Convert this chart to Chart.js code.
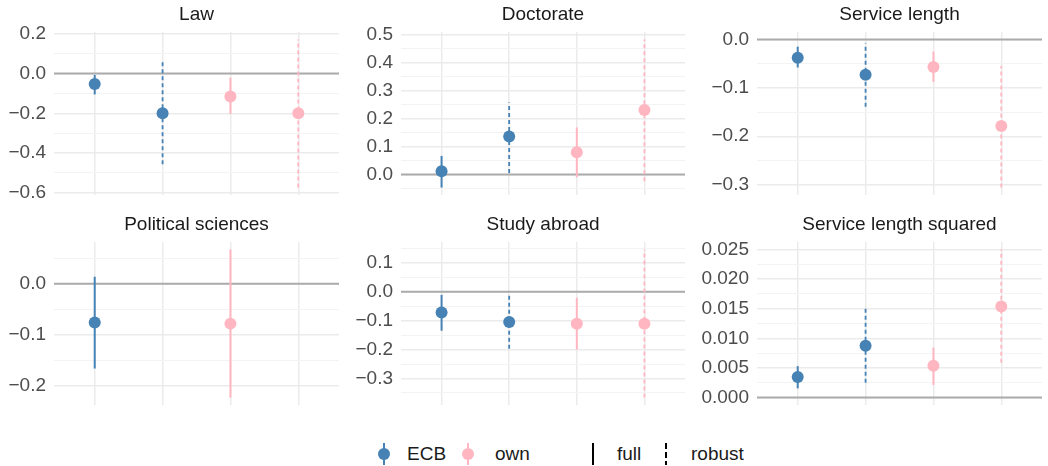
<!DOCTYPE html>
<html>
<head>
<meta charset="utf-8">
<script src="https://cdn.jsdelivr.net/npm/chart.js@4"></script>
<style>
  html, body { margin:0; padding:0; background:#fff; }
  body { width:1048px; height:466px; position:relative; overflow:hidden; font-family:"Liberation Sans", Arial, sans-serif; }
  canvas { position:absolute; }
  .lg { position:absolute; }
  .lgt { position:absolute; font-size:19px; line-height:22px; color:#1A1A1A; top:443px; }
</style>
</head>
<body>
<canvas id="c0"></canvas>
<canvas id="c1"></canvas>
<canvas id="c2"></canvas>
<canvas id="c3"></canvas>
<canvas id="c4"></canvas>
<canvas id="c5"></canvas>

<div class="lg" style="left:383px;top:443px;width:2px;height:22px;background:#4682B4"></div>
<div class="lg" style="left:378px;top:448px;width:12px;height:12px;border-radius:6px;background:#4682B4"></div>
<div class="lgt" style="left:407px">ECB</div>
<div class="lg" style="left:467px;top:443px;width:2px;height:22px;background:#FFB6C1"></div>
<div class="lg" style="left:462px;top:448px;width:12px;height:12px;border-radius:6px;background:#FFB6C1"></div>
<div class="lgt" style="left:495px">own</div>
<div class="lg" style="left:592px;top:443px;width:2px;height:22px;background:#000"></div>
<div class="lgt" style="left:617px">full</div>
<div class="lg" style="left:665px;top:443px;width:2px;height:22px;background:repeating-linear-gradient(to bottom,#000 0 6px,transparent 6px 9px)"></div>
<div class="lgt" style="left:691px">robust</div>

<script>
// ---- data ----
const panelTitles = ['Law', 'Doctorate', 'Service length', 'Political sciences', 'Study abroad', 'Service length squared'];
const xPositions = [1, 2, 3, 4];
const groups = ['ECB', 'ECB', 'own', 'own'];
const specs = ['full', 'robust', 'full', 'robust'];

const lawEst = [-0.052, -0.200, -0.115, -0.200];
const lawLo  = [-0.105, -0.457, -0.203, -0.574];
const lawHi  = [-0.007,  0.057, -0.020,  0.172];

const docEst = [0.011, 0.135, 0.079, 0.230];
const docLo  = [-0.047, 0.005, -0.010, -0.024];
const docHi  = [0.066, 0.257, 0.168, 0.482];

const servEst = [-0.038, -0.073, -0.057, -0.179];
const servLo  = [-0.058, -0.139, -0.088, -0.306];
const servHi  = [-0.015, -0.008, -0.025, -0.055];

const polEst = [-0.076, null, -0.078, null];
const polLo  = [-0.166, null, -0.223, null];
const polHi  = [ 0.014, null,  0.0675, null];

const studyEst = [-0.072, -0.105, -0.111, -0.111];
const studyLo  = [-0.135, -0.197, -0.200, -0.366];
const studyHi  = [-0.011, -0.011, -0.021,  0.146];

const sqEst = [0.00346, 0.00876, 0.00536, 0.01535];
const sqLo  = [0.00156, 0.00250, 0.00212, 0.00586];
const sqHi  = [0.00530, 0.01507, 0.00843, 0.02500];

const lawTicks   = [-0.6, -0.4, -0.2, 0.0, 0.2];
const docTicks   = [0.0, 0.1, 0.2, 0.3, 0.4, 0.5];
const servTicks  = [-0.3, -0.2, -0.1, 0.0];
const polTicks   = [-0.2, -0.1, 0.0];
const studyTicks = [-0.3, -0.2, -0.1, 0.0, 0.1];
const sqTicks    = [0.000, 0.005, 0.010, 0.015, 0.020, 0.025];
const tickDecimals = [1, 1, 1, 1, 1, 3];

const groupColors = { ECB: '#4682B4', own: '#FFB6C1' };

// ---- layout ----
const FONT = '"Liberation Sans", Arial, sans-serif';
const colGeom = [
  { left: 0,   axisW: 54, plotW: 291 },
  { left: 350, axisW: 51, plotW: 290 },
  { left: 697, axisW: 60, plotW: 291 }
];
const rowTop = [0, 210];
const canvasH = 195;

const panelData = [
  [lawEst, lawLo, lawHi, lawTicks],
  [docEst, docLo, docHi, docTicks],
  [servEst, servLo, servHi, servTicks],
  [polEst, polLo, polHi, polTicks],
  [studyEst, studyLo, studyHi, studyTicks],
  [sqEst, sqLo, sqHi, sqTicks]
];

function fmt(v, d) {
  let s = Math.abs(v) < 1e-12 ? (0).toFixed(d) : v.toFixed(d);
  return s.replace('-', '\u2212');
}

panelData.forEach((pd, p) => {
  const [est, lo, hi, majors] = pd;
  const dec = tickDecimals[p];
  const col = colGeom[p % 3];
  const top = rowTop[Math.floor(p / 3)];
  const cv = document.getElementById('c' + p);
  const W = col.axisW + col.plotW;
  cv.width = W; cv.height = canvasH;
  cv.style.left = col.left + 'px'; cv.style.top = top + 'px';
  cv.style.width = W + 'px'; cv.style.height = canvasH + 'px';

  const vals = [0];
  lo.forEach(v => { if (v !== null) vals.push(v); });
  hi.forEach(v => { if (v !== null) vals.push(v); });
  const dmin = Math.min(...vals), dmax = Math.max(...vals);
  const r = dmax - dmin;
  const ymin = dmin - 0.05 * r, ymax = dmax + 0.05 * r;

  const step = majors[1] - majors[0];
  const gridVals = [];
  majors.forEach(m => gridVals.push(m));
  for (let m = majors[0] - step / 2; m <= majors[majors.length - 1] + step / 2 + 1e-12; m += step) {
    if (m >= ymin && m <= ymax) gridVals.push(m);
  }
  gridVals.sort((a, b) => a - b);
  const isMajor = v => majors.some(m => Math.abs(m - v) < step * 1e-6);

  const datasets = [];
  datasets.push({
    type: 'line', data: [{ x: 0.4, y: 0 }, { x: 4.6, y: 0 }],
    borderColor: '#ABABAB', borderWidth: 2, pointRadius: 0, order: 5
  });
  xPositions.forEach((x, i) => {
    if (est[i] === null) return;
    const robust = specs[i] === 'robust';
    datasets.push({
      type: 'line', data: [{ x: x, y: lo[i] }, { x: x, y: hi[i] }],
      borderColor: groupColors[groups[i]], borderWidth: robust ? 1.8 : 2,
      borderDash: robust ? [4, 3] : [], pointRadius: 0, order: 3
    });
  });
  ['ECB', 'own'].forEach(g => {
    const pts = [];
    xPositions.forEach((x, i) => { if (groups[i] === g && est[i] !== null) pts.push({ x: x, y: est[i] }); });
    datasets.push({
      type: 'scatter', data: pts, pointRadius: 6, pointHoverRadius: 6,
      pointBackgroundColor: groupColors[g], pointBorderWidth: 0, borderWidth: 0, order: 1
    });
  });

  const chart = new Chart(cv, {
    type: 'scatter',
    data: { datasets },
    options: {
      responsive: false, maintainAspectRatio: false, animation: false,
      devicePixelRatio: 1,
      layout: { padding: 0 },
      plugins: {
        legend: { display: false }, tooltip: { enabled: false },
        title: {
          display: true, text: panelTitles[p], fullSize: false,
          color: '#1A1A1A', font: { family: FONT, size: 19, weight: 'normal', lineHeight: 1.2 },
          padding: { top: 3, bottom: 6.2 }
        }
      },
      scales: {
        x: {
          type: 'linear', min: 0.4, max: 4.6,
          afterBuildTicks: s => { s.ticks = xPositions.map(v => ({ value: v })); },
          afterFit: s => { s.height = 0; s.paddingLeft = 0; s.paddingRight = 0; s.paddingTop = 0; s.paddingBottom = 0; },
          ticks: { display: false },
          grid: { color: '#EBEBEB', lineWidth: 1.5, drawTicks: false },
          border: { display: false }
        },
        y: {
          type: 'linear', min: ymin, max: ymax,
          afterBuildTicks: s => { s.ticks = gridVals.map(v => ({ value: v })); },
          afterFit: s => { s.width = col.axisW; s.paddingTop = 0; s.paddingBottom = 0; s.paddingLeft = 0; s.paddingRight = 0; },
          ticks: {
            autoSkip: false, padding: 8, color: '#4D4D4D',
            font: { family: FONT, size: 19 },
            callback: v => isMajor(v) ? fmt(v, dec) : ''
          },
          grid: {
            drawTicks: false,
            color: c => isMajor(c.tick.value) ? '#EBEBEB' : '#F3F3F3',
            lineWidth: c => isMajor(c.tick.value) ? 1.5 : 1
          },
          border: { display: false }
        }
      }
    }
  });
  // make the plotting area end exactly at the bottom of the panel slot
  const missing = Math.round(canvasH - chart.chartArea.bottom);
  if (missing !== 0) {
    const h = canvasH + missing;
    chart.resize(W, h);
    cv.style.height = h + 'px';
  }
});
</script>
</body>
</html>
